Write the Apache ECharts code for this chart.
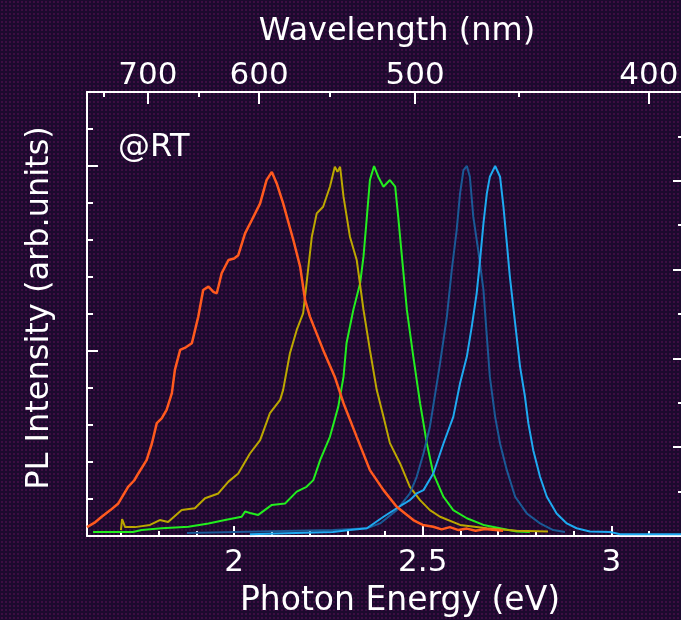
<!DOCTYPE html>
<html>
<head>
<meta charset="utf-8">
<script src="https://cdn.jsdelivr.net/npm/echarts@6/dist/echarts.min.js"></script>
<style>
html,body{margin:0;padding:0;background:#1c0a2e;}
#chart{width:681px;height:620px;background-color:#1c0a2e;
  background-image:radial-gradient(circle,#3c0e42 0.9px,transparent 1.4px);
  background-size:4px 4px;}
</style>
</head>
<body>
<div id="chart"></div>
<script>
// PL 光谱 [光子能量 eV, 归一化强度]
var orange = [[1.61,0.024],[1.63,0.036],[1.649,0.052],[1.672,0.07],[1.693,0.088],[1.719,0.133],[1.735,0.15],[1.746,0.169],[1.768,0.205],[1.782,0.25],
  [1.795,0.305],[1.808,0.318],[1.821,0.341],[1.835,0.386],[1.843,0.449],[1.857,0.503],[1.872,0.51],[1.888,0.521],[1.905,0.593],[1.918,0.665],
  [1.932,0.674],[1.945,0.66],[1.954,0.656],[1.967,0.71],[1.985,0.746],[2.0,0.75],[2.011,0.759],[2.029,0.818],[2.047,0.854],[2.069,0.899],
  [2.086,0.962],[2.1,0.984],[2.113,0.953],[2.13,0.899],[2.157,0.8],[2.175,0.728],[2.188,0.638],[2.201,0.593],
  [2.236,0.503],[2.267,0.43],[2.29,0.359],[2.325,0.268],[2.36,0.178],[2.396,0.124],[2.431,0.079],[2.475,0.043],
  [2.5,0.03],[2.528,0.025],[2.55,0.018],[2.572,0.024],[2.595,0.016],[2.617,0.02],[2.64,0.014],[2.665,0.019],[2.713,0.014]];
var yellow = [[1.7,0.016],[1.703,0.046],[1.711,0.024],[1.737,0.024],[1.777,0.03],[1.803,0.043],[1.825,0.038],
  [1.861,0.07],[1.896,0.075],[1.923,0.102],[1.958,0.115],[1.985,0.147],[2.011,0.169],[2.042,0.223],[2.069,0.259],
  [2.095,0.332],[2.122,0.368],[2.13,0.395],[2.148,0.494],[2.166,0.557],[2.183,0.602],[2.192,0.683],[2.206,0.809],
  [2.219,0.872],[2.236,0.89],[2.254,0.944],[2.267,0.998],[2.274,0.984],[2.281,0.998],[2.29,0.917],[2.307,0.809],
  [2.325,0.746],[2.343,0.611],[2.36,0.503],[2.378,0.395],[2.396,0.322],[2.413,0.251],[2.44,0.196],[2.466,0.133],
  [2.493,0.097],[2.519,0.07],[2.546,0.052],[2.599,0.03],[2.67,0.021],[2.749,0.014],[2.832,0.012]];
var green = [[1.626,0.011],[1.732,0.011],[1.755,0.016],[1.808,0.021],[1.879,0.025],[1.932,0.034],[1.976,0.043],
  [2.02,0.052],[2.029,0.066],[2.042,0.062],[2.064,0.057],[2.1,0.084],[2.135,0.088],[2.166,0.12],[2.192,0.133],
  [2.21,0.151],[2.228,0.205],[2.254,0.268],[2.276,0.349],[2.29,0.43],[2.298,0.521],[2.316,0.611],[2.334,0.683],
  [2.343,0.755],[2.352,0.863],[2.36,0.962],[2.371,1.0],[2.382,0.971],[2.396,0.944],[2.413,0.962],[2.427,0.944],
  [2.435,0.863],[2.449,0.71],[2.458,0.611],[2.475,0.485],[2.493,0.359],[2.511,0.25],[2.528,0.169],[2.555,0.106],
  [2.581,0.07],[2.617,0.048],[2.661,0.03],[2.705,0.021],[2.749,0.012],[2.784,0.011]];
var darkBlue = [[1.875,0.008],[2.262,0.016],[2.352,0.021],[2.387,0.034],[2.431,0.07],[2.466,0.115],[2.484,0.16],
  [2.502,0.223],[2.519,0.295],[2.546,0.467],[2.564,0.593],[2.577,0.719],[2.59,0.827],[2.599,0.926],[2.608,0.989],
  [2.617,1.0],[2.625,0.971],[2.634,0.863],[2.647,0.773],[2.661,0.665],[2.67,0.539],[2.678,0.43],[2.692,0.322],
  [2.705,0.25],[2.723,0.178],[2.745,0.106],[2.776,0.061],[2.811,0.034],[2.846,0.016],[2.877,0.011]];
var lightBlue = [[2.042,0.005],[2.262,0.011],[2.307,0.016],[2.352,0.021],[2.396,0.052],[2.431,0.075],[2.466,0.097],
  [2.484,0.115],[2.502,0.124],[2.528,0.169],[2.555,0.25],[2.581,0.322],[2.599,0.413],[2.617,0.485],[2.63,0.566],
  [2.643,0.656],[2.652,0.746],[2.661,0.845],[2.67,0.926],[2.678,0.971],[2.692,1.0],[2.705,0.971],[2.714,0.89],
  [2.723,0.791],[2.731,0.701],[2.74,0.62],[2.749,0.539],[2.758,0.458],[2.771,0.377],[2.78,0.305],[2.793,0.232],
  [2.811,0.16],[2.829,0.106],[2.855,0.061],[2.882,0.034],[2.908,0.021],[2.943,0.012],[2.997,0.011],[3.023,0.005],[3.19,0.005]];

// 刻度
var energyMajor = [2, 2.5, 3];
var energyMinor = [1.7,1.8,1.9,2.1,2.2,2.3,2.4,2.6,2.7,2.8,2.9,3.1];
var waveMajor = [700, 600, 500, 400];
var waveMinor = [750, 650, 550, 450];
var intensityMajor = [0.5, 1.0];
var intensityMinor = [0.1,0.2,0.3,0.4,0.6,0.7,0.8,0.9,1.1];
var rightMajor = [1, 2, 3, 4];
var rightMinor = [0.5, 1.5, 2.5, 3.5, 4.5];

var HC = 1239.84;
var E_MIN = 1.61, E_MAX = 3.19;
var FONT = "'DejaVu Sans', sans-serif";
var white = '#ffffff';

function toE(arr) {
    return arr.map(function (w) { return HC / w; });
}

function xAx(grid, pos, ticks, len, labels, showLine) {
    return {
        type: 'value', gridIndex: grid, position: pos, min: E_MIN, max: E_MAX,
        axisLine: {show: showLine, onZero: false, lineStyle: {color: white, width: 2}},
        axisTick: {show: true, inside: true, length: len, customValues: ticks, lineStyle: {color: white, width: 2}},
        axisLabel: labels,
        splitLine: {show: false}
    };
}

function yAx(grid, pos, min, max, ticks, len, showLine) {
    return {
        type: 'value', gridIndex: grid, position: pos, min: min, max: max,
        axisLine: {show: showLine, onZero: false, lineStyle: {color: white, width: 2}},
        axisTick: {show: true, inside: true, length: len, customValues: ticks, lineStyle: {color: white, width: 2}},
        axisLabel: {show: false},
        splitLine: {show: false}
    };
}

var chart = echarts.init(document.getElementById('chart'), null, {renderer: 'canvas'});

var gridRect = {left: 87, top: 92, width: 596, height: 444, outerBoundsMode: 'none', containLabel: false};

var option = {
    backgroundColor: 'transparent',
    animation: false,
    grid: [Object.assign({}, gridRect), Object.assign({}, gridRect)],
    xAxis: [
        xAx(0, 'bottom', energyMajor, 10, {
            show: true, customValues: energyMajor, color: white, fontSize: 31, fontFamily: FONT, margin: 11,
            formatter: function (v) { return String(v); }
        }, true),
        xAx(0, 'top', toE(waveMajor), 12, {
            show: true, customValues: toE(waveMajor), color: white, fontSize: 31, fontFamily: FONT, margin: 1,
            formatter: function (v) { return String(Math.round(HC / v)); }
        }, true),
        xAx(1, 'bottom', energyMinor, 5, {show: false}, false),
        xAx(1, 'top', toE(waveMinor), 5, {show: false}, false)
    ],
    yAxis: [
        yAx(0, 'left', 0, 1.2, intensityMajor, 11, true),
        yAx(0, 'right', 0, 5, rightMajor, 10, false),
        yAx(1, 'left', 0, 1.2, intensityMinor, 6, false),
        yAx(1, 'right', 0, 5, rightMinor, 5, false)
    ],
    graphic: [
        {type: 'text', x: 397, y: 32, style: {text: 'Wavelength (nm)', fill: white, font: '32px ' + FONT, align: 'center', verticalAlign: 'middle'}},
        {type: 'text', x: 400, y: 601, style: {text: 'Photon Energy (eV)', fill: white, font: '33px ' + FONT, align: 'center', verticalAlign: 'middle'}},
        {type: 'text', x: 40, y: 308, rotation: Math.PI / 2, style: {text: 'PL Intensity (arb.units)', fill: white, font: '32px ' + FONT, align: 'center', verticalAlign: 'middle'}},
        {type: 'text', x: 118, y: 148, style: {text: '@RT', fill: white, font: '32px ' + FONT, align: 'left', verticalAlign: 'middle'}}
    ],
    series: [
        {name: 'green', data: green, color: '#22ee1e', w: 2},
        {name: 'yellow', data: yellow, color: '#bca800', w: 2},
        {name: 'darkBlue', data: darkBlue, color: '#1a5a96', w: 2},
        {name: 'lightBlue', data: lightBlue, color: '#1eaaf0', w: 2},
        {name: 'orange', data: orange, color: '#ff5a1e', w: 2.5}
    ].map(function (s) {
        return {
            name: s.name, type: 'line', xAxisIndex: 0, yAxisIndex: 0, data: s.data,
            showSymbol: false, symbol: 'none', smooth: false,
            lineStyle: {color: s.color, width: s.w}, itemStyle: {color: s.color}
        };
    })
};

chart.setOption(option);
</script>
</body>
</html>
